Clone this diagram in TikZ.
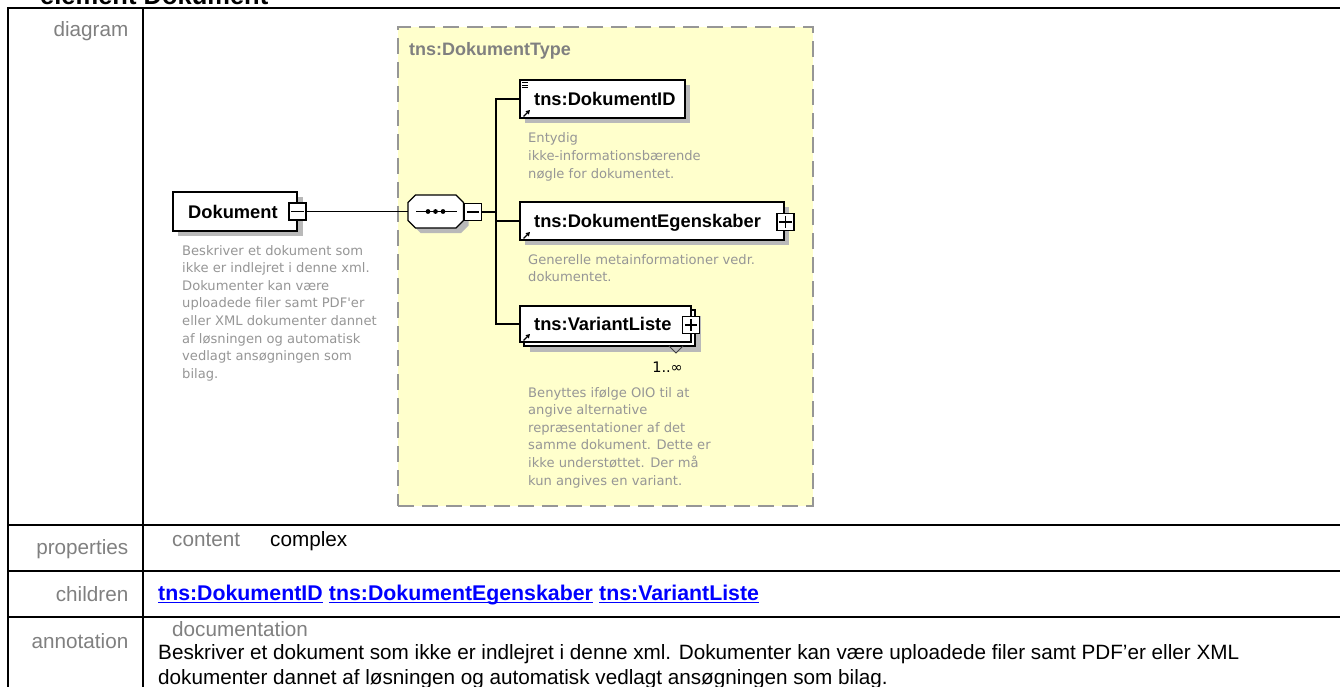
\documentclass[tikz,border=0pt]{standalone}
\usepackage{fontspec}
\setmainfont{Liberation Sans}
\newfontfamily\descfont{DejaVu Sans}
\usetikzlibrary{arrows.meta}
\definecolor{yel}{RGB}{255,255,204}
\definecolor{dashgray}{RGB}{150,150,150}
\definecolor{labgray}{RGB}{128,128,128}
\definecolor{descgray}{RGB}{150,150,150}
\definecolor{shadowgray}{RGB}{185,185,185}
\definecolor{linkblue}{RGB}{0,0,255}
\begin{document}
\begin{tikzpicture}[x=1pt,y=-1pt,
  tline/.style={line width=2pt,black},
  rowlabel/.style={anchor=base east,inner sep=0,text=labgray,font=\fontsize{20.7}{24}\selectfont},
  plain/.style={anchor=base west,inner sep=0,font=\fontsize{20.7}{24}\selectfont},
  link/.style={anchor=base west,inner sep=0,text=linkblue,font=\fontsize{21.3}{24}\selectfont\bfseries},
  elbox/.style={draw=black,fill=white,line width=1.4pt,inner sep=0},
  eltitle/.style={anchor=base west,inner sep=0,font=\fontsize{18.3}{22}\selectfont\bfseries},
  pmbox/.style={draw=black,fill=white,line width=1.4pt,minimum size=17pt,inner sep=0},
  conn/.style={line width=1.5pt,black},
  desc/.style={anchor=north west,inner sep=0,align=left,text=descgray,font=\descfont\fontsize{13.1}{17.6}\selectfont},
  shadow/.style={fill=shadowgray},
  icon/.style={line width=1.3pt,-{Triangle[length=4pt,width=4.5pt]}}
]
\useasboundingbox (0,0) rectangle (1340,687);
\clip (0,0) rectangle (1340,687);
\fill[white] (0,0) rectangle (1340,687);

% title (cut off at top)
\node[anchor=base west,inner sep=0,font=\fontsize{25.5}{30}\selectfont\bfseries] (title) at (40,5) {element Dokument};

% table
\draw[tline] (1340,8) -- (8,8) -- (8,687);
\draw[tline] (143,8) -- (143,687);
\draw[tline] (8,525) -- (1340,525);
\draw[tline] (8,571) -- (1340,571);
\draw[tline] (8,617) -- (1340,617);

\node[rowlabel] (ldiag) at (128.5,37) {diagram};
\node[rowlabel] (lprop) at (128.5,554) {properties};
\node[rowlabel] (lchild) at (128.5,601) {children};
\node[rowlabel] (lann) at (128.5,648) {annotation};

\node[plain,text=labgray] (content) at (172,546) {content};
\node[plain] (complex) at (270,546) {complex};

\node[link] (l1) at (158,600) {tns:DokumentID};
\node[link] (l2) at ([xshift=5.9pt]l1.base east) {tns:DokumentEgenskaber};
\node[link] (l3) at ([xshift=5.9pt]l2.base east) {tns:VariantListe};
\foreach \l in {l1,l2,l3}{
  \draw[linkblue,line width=1.4pt] ([yshift=-2.6pt]\l.base west) -- ([yshift=-2.6pt]\l.base east);
}

\node[plain,text=labgray] (docl) at (172,636) {documentation};
\node[plain] (ann1) at (158,659) {Beskriver et dokument som ikke er indlejret i denne xml. Dokumenter kan være uploadede filer samt PDF'er eller XML};
\node[plain] (ann2) at (158,684) {dokumenter dannet af løsningen og automatisk vedlagt ansøgningen som bilag.};

% complex type box
\node[draw=dashgray,fill=yel,line width=2pt,dash pattern=on 16pt off 8pt,minimum width=415pt,minimum height=479pt,inner sep=0] (ctype) at (605.5,266.5) {};
\node[anchor=base west,inner sep=0,text=labgray,font=\fontsize{18}{22}\selectfont\bfseries] (ctypel) at (409,55.5) {tns:DokumentType};

% Dokument element
\fill[shadow] (178,197) rectangle (303,236);
\node[elbox,minimum width=124pt,minimum height=39pt] (dok) at (235,211.5) {};
\node[eltitle] (dokt) at (188,218) {Dokument};
\node[pmbox] (dokm) at (297.5,211.5) {};
\draw[line width=1.2pt] ([xshift=3pt]dokm.west) -- ([xshift=-3pt]dokm.east);
\node[desc] (dokd) at (182,244.8) {\rule{0pt}{10pt}Beskriver et dokument som\\ikke er indlejret i denne xml.\\Dokumenter kan være\\uploadede filer samt PDF'er\\eller XML dokumenter dannet\\af løsningen og automatisk\\vedlagt ansøgningen som\\bilag.};

% sequence
\fill[shadow] (420.5,200) -- (461,200) -- (468.5,207.5) -- (468.5,225.5) -- (461,233) -- (420.5,233) -- (413,225.5) -- (413,207.5) -- cycle;
\draw[fill=white,line width=1.4pt] (415.5,195) -- (456,195) -- (463.5,202.5) -- (463.5,220.5) -- (456,228) -- (415.5,228) -- (408,220.5) -- (408,202.5) -- cycle;
\node[minimum width=55.5pt,minimum height=33pt,inner sep=0] (seq) at (435.75,211.5) {};
\draw[line width=1.4pt] (416,211.5) -- (457,211.5);
\foreach \d in {428,435.5,443}{\fill (\d,211.5) circle (2.4pt);}
\node[pmbox] (seqm) at (473,212) {};
\draw[line width=1.2pt] ([xshift=3pt]seqm.west) -- ([xshift=-3pt]seqm.east);

% DokumentID
\fill[shadow] (525,85) rectangle (690,123);
\node[elbox,minimum width=165pt,minimum height=38pt] (id) at (602.5,99) {};
\node[eltitle] (idt) at (534,105.6) {tns:DokumentID};
\foreach \yy in {82.5,85,87.5}{\draw[line width=0.9pt] (522,\yy) -- (528,\yy);}
\draw[icon] (523.5,116.5) -- (530,110);
\node[desc] (idd) at (528,132.8) {\rule{0pt}{10pt}Entydig\\ikke-informationsbærende\\nøgle for dokumentet.};

% DokumentEgenskaber
\fill[shadow] (525,207) rectangle (789,245);
\node[elbox,minimum width=264pt,minimum height=38pt] (egen) at (652,221) {};
\node[eltitle] (egent) at (534,227.6) {tns:DokumentEgenskaber};
\node[pmbox] (egenp) at (785.5,222) {};
\draw[line width=1.2pt] ([xshift=3pt]egenp.west) -- ([xshift=-3pt]egenp.east);
\draw[line width=1.2pt] ([yshift=-3pt]egenp.north) -- ([yshift=3pt]egenp.south);
\draw[icon] (523.5,238.5) -- (530,232);
\node[desc] (egend) at (528,253.8) {\rule{0pt}{10pt}Generelle metainformationer vedr.\\dokumentet.};

% VariantListe
\fill[shadow] (530,316) rectangle (701,352);
\node[elbox,minimum width=171pt,minimum height=36pt] (varb) at (609.5,328) {};
\draw[line width=0.9pt,black!75] (669,346) -- (676,353) -- (683,346);
\node[elbox,minimum width=171pt,minimum height=36pt] (var) at (605.5,324) {};
\node[eltitle] (vart) at (534,330.6) {tns:VariantListe};
\node[pmbox] (varp) at (691,325) {};
\draw[line width=1.2pt] ([xshift=3pt]varp.west) -- ([xshift=-3pt]varp.east);
\draw[line width=1.2pt] ([yshift=-3pt]varp.north) -- ([yshift=3pt]varp.south);
\draw[icon] (523.5,340.5) -- (530,334);
\node[anchor=base east,inner sep=0,font=\descfont\fontsize{14.5}{17}\selectfont] (occ) at (683,372) {1..∞};
\node[desc] (vard) at (528,386.8) {\rule{0pt}{10pt}Benyttes ifølge OIO til at\\angive alternative\\repræsentationer af det\\samme dokument. Dette er\\ikke understøttet. Der må\\kun angives en variant.};

% connectors
\coordinate (trunk) at (496,99);
\draw[conn] (dokm.east) -- (seq.west);
\draw[conn] (seqm.east) -- (seqm.east -| trunk);
\draw[conn] (id.west) -- (id.west -| trunk) -- (trunk |- var.west) -- (var.west);
\draw[conn] (egen.west) -- (egen.west -| trunk);
\end{tikzpicture}
\end{document}
